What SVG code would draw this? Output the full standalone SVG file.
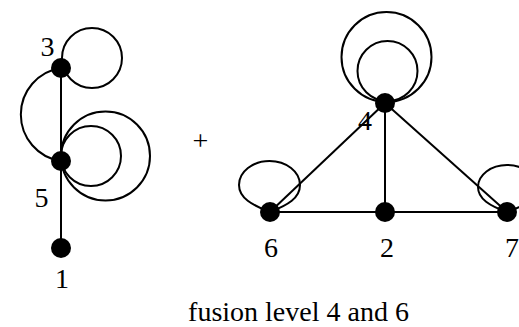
<svg xmlns="http://www.w3.org/2000/svg" width="519" height="327" viewBox="0 0 519 327">
<style>
.e{fill:none;stroke:#000;stroke-width:2}
.n{fill:#000}
text{font-family:"Liberation Serif","Times New Roman",serif;font-size:28px;fill:#000;text-anchor:middle}
</style>
<rect width="519" height="327" fill="#fff"/>
<g id="connectors">
<line class="e" x1="61" y1="68" x2="61" y2="161"/>
<line class="e" x1="61" y1="161" x2="61" y2="248"/>
<path class="e" d="M61,68 A47,47 0 0,0 61,161"/>
<circle class="e" cx="92" cy="58" r="30"/>
<circle class="e" cx="91" cy="156" r="30"/>
<circle class="e" cx="105.5" cy="156" r="44.5"/>
<line class="e" x1="385" y1="103" x2="270" y2="212"/>
<line class="e" x1="385" y1="103" x2="385" y2="212"/>
<line class="e" x1="385" y1="103" x2="507" y2="212"/>
<line class="e" x1="270" y1="212" x2="507" y2="212"/>
<circle class="e" cx="386.5" cy="57" r="45"/>
<circle class="e" cx="387.5" cy="71" r="30"/>
<path class="e" d="M270,212 C252,205 239,198 239,185 A30.5,24 0 0,1 300,185 C300,198 288,205 270,212"/>
<path class="e" d="M507,212 C490,206 478,199 478,187 A29,22 0 0,1 536,187 C536,199 524,206 507,212"/>
</g>
<g id="node3"><circle class="n" cx="61" cy="68" r="10"/><text x="47.5" y="56">3</text></g>
<g id="node5"><circle class="n" cx="61" cy="161" r="10"/><text x="41.5" y="207">5</text></g>
<g id="node1"><circle class="n" cx="61" cy="248" r="10"/><text x="62" y="288">1</text></g>
<g id="node4"><circle class="n" cx="385" cy="103" r="10"/><text x="365" y="130">4</text></g>
<g id="node6"><circle class="n" cx="270" cy="212" r="10"/><text x="271" y="257">6</text></g>
<g id="node2"><circle class="n" cx="385" cy="212" r="10"/><text x="387" y="257">2</text></g>
<g id="node7"><circle class="n" cx="507" cy="212" r="10"/><text x="512" y="257">7</text></g>
<text x="200.5" y="150">+</text>
<text x="298.5" y="321">fusion level 4 and 6</text>
</svg>
